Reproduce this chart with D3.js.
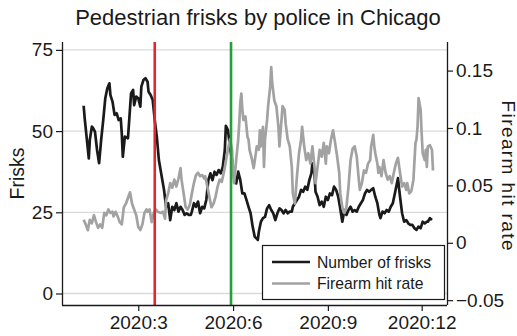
<!DOCTYPE html>
<html>
<head>
<meta charset="utf-8">
<script src="https://cdn.jsdelivr.net/npm/d3@7"></script>
<style>
  body { margin: 0; background: #fff; }
  svg { display: block; }
  text { font-family: "Liberation Sans", Arial, Helvetica, sans-serif; fill: #1a1a1a; }
</style>
</head>
<body>
<script>
// day of year 2020 (1 = Jan 1) and daily values
var friskDay = [8,9,13,14,16,17,19,21,23,25,27,29,31,33,34,36,38,40,42,44,45,46,48,51,52,54,56,57,59,61,
  63,64,66,68,70,71,73,75,77,79,81,83,86,88,90,92,94,96,98,100,102,104,106,108,110,112,113,115,117,119,
  121,123,125,127,129,131,133,135,137,139,141,143,145,146,148,150,152,154,156,158,160,162,164,166,168,170,172,174,177,178,
  180,182,184,186,188,190,192,194,196,198,200,202,204,206,208,210,211,213,215,217,219,221,223,225,227,229,230,232,233,235,
  237,239,241,243,245,247,249,251,253,255,257,259,261,263,265,267,269,271,273,275,277,279,281,283,285,287,289,291,293,295,
  296,298,300,302,304,306,308,310,312,313,315,317,319,321,323,325,327,329,331,333,335,337,339,341,342,344,346];
var friskCount = [57.8,54.0,41.6,47.3,51.4,51.0,49.8,44.2,40.1,47.3,53.4,60.1,63.2,64.7,61.1,59.1,55.0,55.5,53.4,53.9,
  49.3,42.1,48.3,47.8,52.4,61.6,62.7,58.0,60.6,60.1,57.5,63.7,65.7,66.3,65.2,62.1,61.1,59.6,53.4,48.3,
  41.1,37.4,31.9,26.7,27.8,22.6,26.7,25.7,27.8,25.2,26.7,25.7,24.2,24.7,24.2,24.2,25.2,27.8,26.7,28.3,
  24.7,26.7,26.2,28.8,34.9,37.0,34.9,37.5,36.5,38.0,37.0,39.0,44.2,51.6,50.3,45.2,41.1,36.0,33.9,37.5,
  34.9,30.8,30.8,28.8,26.7,24.7,20.6,17.5,16.5,19.0,22.1,23.2,23.6,26.2,27.2,25.7,24.7,22.6,24.7,26.2,
  25.7,24.7,25.7,24.7,25.2,25.2,26.7,27.8,28.8,29.8,31.9,31.3,32.9,31.9,34.9,37.0,40.1,37.0,31.3,29.8,
  27.2,28.3,26.7,29.8,28.8,30.8,30.3,32.9,31.9,29.8,26.2,22.1,25.7,24.2,25.7,26.7,25.2,25.7,25.2,26.7,
  27.8,28.8,30.8,31.9,31.3,31.9,32.4,29.8,27.8,24.2,23.2,25.2,24.7,25.7,25.2,26.7,27.8,30.8,33.9,35.5,
  29.8,24.7,22.1,22.6,21.6,21.1,21.1,20.1,19.6,20.6,20.1,22.1,21.6,22.1,22.1,23.2,22.6];

var hitDay = [8,10,12,14,16,18,20,22,24,26,28,30,32,34,36,37,39,41,43,45,47,49,51,53,55,57,59,61,63,65,
  67,69,70,72,74,76,78,80,83,85,87,88,90,92,94,96,98,100,102,103,105,107,109,111,113,115,117,119,121,123,
  125,126,128,130,132,134,136,138,140,142,144,146,148,150,152,153,154,156,158,159,160,161,162,163,165,167,168,169,171,173,
  174,176,178,179,180,182,183,184,186,187,189,190,191,193,195,197,198,200,201,203,204,206,208,210,211,213,215,217,219,220,
  222,224,226,228,230,232,233,235,237,239,241,243,244,246,248,250,252,254,256,257,259,261,263,265,267,269,271,273,275,276,
  278,280,282,284,286,287,289,290,291,293,294,295,297,299,301,303,305,307,309,311,313,315,317,319,321,322,324,326,328,330,
  331,332,333,335,336,337,339,340,341,342,344,346,347];
var hitRate = [0.020,0.016,0.011,0.020,0.017,0.024,0.018,0.013,0.016,0.013,0.026,0.024,0.029,0.026,0.027,0.023,0.027,0.023,0.018,0.016,
  0.031,0.034,0.039,0.044,0.034,0.029,0.024,0.014,0.011,0.016,0.026,0.029,0.027,0.029,0.018,0.026,0.029,0.027,0.026,0.027,
  0.021,0.037,0.043,0.052,0.048,0.055,0.049,0.056,0.065,0.055,0.043,0.031,0.029,0.033,0.043,0.052,0.059,0.061,0.058,0.059,
  0.056,0.058,0.049,0.040,0.031,0.034,0.040,0.049,0.055,0.053,0.061,0.071,0.081,0.090,0.081,0.061,0.052,0.072,0.090,0.104,
  0.122,0.130,0.116,0.107,0.110,0.092,0.090,0.081,0.074,0.065,0.071,0.084,0.081,0.098,0.084,0.101,0.066,0.090,0.107,0.119,
  0.136,0.153,0.139,0.124,0.119,0.101,0.084,0.107,0.119,0.116,0.104,0.090,0.084,0.066,0.043,0.034,0.058,0.078,0.090,0.101,
  0.084,0.072,0.078,0.069,0.084,0.066,0.052,0.066,0.081,0.075,0.087,0.069,0.084,0.078,0.090,0.098,0.087,0.075,0.061,0.043,
  0.031,0.026,0.031,0.049,0.072,0.082,0.084,0.075,0.055,0.046,0.052,0.063,0.061,0.069,0.072,0.084,0.094,0.084,0.078,0.069,
  0.061,0.066,0.058,0.072,0.061,0.055,0.058,0.052,0.061,0.069,0.074,0.061,0.049,0.052,0.046,0.052,0.043,0.045,0.055,0.087,
  0.090,0.101,0.126,0.116,0.095,0.078,0.072,0.081,0.066,0.084,0.085,0.081,0.063];

var xTickDays = [61, 153, 245, 336];            // Mar 1, Jun 1, Sep 1, Dec 1
var xTickLabels = ["2020:3", "2020:6", "2020:9", "2020:12"];
var friskTicks = [0, 25, 50, 75];
var rateTicks = [-0.05, 0, 0.05, 0.1, 0.15];
var rateTickLabels = ["\u22120.05", "0", "0.05", "0.1", "0.15"];
var eventDays = [77, 151];                      // Mar 17, May 30
var eventColors = ["#e2262c", "#22a03a"];
var seriesNames = ["Number of frisks", "Firearm hit rate"];

var w = 517, h = 336;
var plotL = 62, plotR = 447, plotT = 42, plotB = 305;

function day(d) { return new Date(Date.UTC(2020, 0, d)); }

var svg = d3.select("body").append("svg")
  .attr("width", w)
  .attr("height", h);

var x = d3.scaleUtc()
  .domain([day(-13), new Date(Date.UTC(2020, 0, 360, 14))])
  .range([plotL, plotR]);
var yL = d3.scaleLinear().domain([-3.54, 77.43]).range([plotB, plotT]);
var yR = d3.scaleLinear().domain([-0.0542, 0.1749]).range([plotB, plotT]);

// gridlines
svg.append("g")
  .selectAll("line")
  .data(friskTicks)
  .enter()
  .append("line")
  .attr("x1", plotL).attr("x2", plotR)
  .attr("y1", function(d) { return yL(d); })
  .attr("y2", function(d) { return yL(d); })
  .attr("stroke", "#dadada")
  .attr("stroke-width", 1.3);

// series
var frisks = friskDay.map(function(d, i) { return [day(d), friskCount[i]]; });
var hits = hitDay.map(function(d, i) { return [day(d), hitRate[i]]; });

svg.append("path")
  .datum(frisks)
  .attr("fill", "none")
  .attr("stroke", "#1a1a1a")
  .attr("stroke-width", 2.7)
  .attr("stroke-linejoin", "round")
  .attr("d", d3.line().x(function(d) { return x(d[0]); }).y(function(d) { return yL(d[1]); }));

svg.append("path")
  .datum(hits)
  .attr("fill", "none")
  .attr("stroke", "#a2a2a2")
  .attr("stroke-width", 2.7)
  .attr("stroke-linejoin", "round")
  .attr("d", d3.line().x(function(d) { return x(d[0]); }).y(function(d) { return yR(d[1]); }));

// event lines
svg.selectAll(".event")
  .data(eventDays)
  .enter()
  .append("line")
  .attr("x1", function(d) { return x(day(d)); })
  .attr("x2", function(d) { return x(day(d)); })
  .attr("y1", plotT).attr("y2", plotB)
  .attr("stroke", function(d, i) { return eventColors[i]; })
  .attr("stroke-width", 2.6);

// axes
var axL = svg.append("g")
  .attr("transform", "translate(" + plotL + ",0)")
  .call(d3.axisLeft(yL).tickValues(friskTicks).tickSize(6).tickPadding(3));
var axR = svg.append("g")
  .attr("transform", "translate(" + plotR + ",0)")
  .call(d3.axisRight(yR).tickValues(rateTicks).tickSize(6).tickPadding(3)
    .tickFormat(function(d, i) { return rateTickLabels[i]; }));
var axB = svg.append("g")
  .attr("transform", "translate(0," + plotB + ")")
  .call(d3.axisBottom(x).tickValues(xTickDays.map(day)).tickSize(6).tickPadding(5)
    .tickFormat(function(d, i) { return xTickLabels[i]; }));

[axL, axR, axB].forEach(function(a) {
  a.select(".domain").attr("stroke", "#1a1a1a").attr("stroke-width", 1.3);
  a.selectAll(".tick line").attr("stroke", "#1a1a1a").attr("stroke-width", 1.2);
  a.selectAll("text")
    .attr("fill", "#1a1a1a")
    .style("font-size", "19px")
    .style("font-family", "'Liberation Sans', Arial, sans-serif");
});
// domain paths come with outer ticks; redraw them plain
axL.select(".domain").attr("d", "M0.5," + plotT + "V" + plotB);
axR.select(".domain").attr("d", "M0.5," + plotT + "V" + plotB);
axB.select(".domain").attr("d", "M" + plotL + ",0.5H" + plotR);

// titles
svg.append("text")
  .attr("x", 258).attr("y", 25)
  .attr("text-anchor", "middle")
  .style("font-size", "22px")
  .text("Pedestrian frisks by police in Chicago");

svg.append("text")
  .attr("transform", "translate(24," + ((plotT + plotB) / 2) + ") rotate(-90)")
  .attr("text-anchor", "middle")
  .style("font-size", "19.5px")
  .text("Frisks");

svg.append("text")
  .attr("transform", "translate(501.5," + ((plotT + plotB) / 2 + 2) + ") rotate(90)")
  .attr("text-anchor", "middle")
  .attr("textLength", 150)
  .attr("lengthAdjust", "spacing")
  .style("font-size", "19px")
  .text("Firearm hit rate");

// legend
var lg = svg.append("g").attr("transform", "translate(262,245)");
lg.append("rect")
  .attr("x", 0.5).attr("y", 0.5)
  .attr("width", 182).attr("height", 54)
  .attr("fill", "#fff")
  .attr("stroke", "#1a1a1a")
  .attr("stroke-width", 1.2);
var items = lg.selectAll(".item")
  .data(seriesNames)
  .enter()
  .append("g")
  .attr("transform", function(d, i) { return "translate(0," + (17 + i * 21.5) + ")"; });
items.append("line")
  .attr("x1", 10).attr("x2", 48)
  .attr("stroke", function(d, i) { return i == 0 ? "#1a1a1a" : "#a2a2a2"; })
  .attr("stroke-width", 2.6);
items.append("text")
  .attr("x", 55).attr("dy", "0.35em")
  .style("font-size", "15.7px")
  .text(function(d) { return d; });
</script>
</body>
</html>
